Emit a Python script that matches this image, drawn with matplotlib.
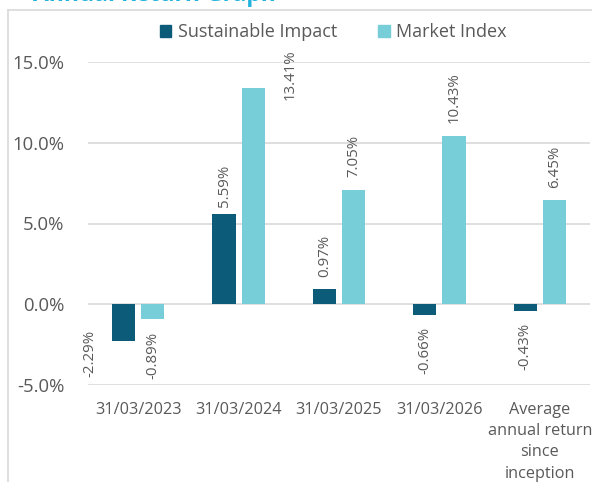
import numpy as np
import matplotlib.pyplot as plt
from matplotlib.patches import Patch
from matplotlib.lines import Line2D

categories = ['31/03/2023', '31/03/2024', '31/03/2025', '31/03/2026',
              'Average\nannual return\nsince\ninception']
sustainable = [-2.29, 5.59, 0.97, -0.66, -0.43]
market = [-0.89, 13.41, 7.05, 10.43, 6.45]

# where Excel put the data labels (y of text start / end, and x nudges)
sust_label_y = [-1.61, 6.01, 1.67, -1.43, -1.18]
mkt_label_y = [-1.73, 12.64, 7.87, 11.21, 7.19]
sust_label_dx = [-0.34, 0, 0, 0, 0]
mkt_label_dx = [0, 0.37, 0, 0, 0]

DARK = '#0b5b79'
LIGHT = '#77ced8'
GREY = '#595959'
GRID = '#d9d9d9'
FONT = 'Open Sans'

plt.rcParams['font.family'] = FONT

fig = plt.figure(figsize=(5.92, 4.82), dpi=100)
ax = fig.add_axes([88 / 592, 1 - 385 / 482, (590 - 88) / 592, (385 - 62) / 482])

x = np.arange(len(categories))
w = 0.23
off = 0.145
ax.bar(x - off, sustainable, w, color=DARK, zorder=3)
ax.bar(x + off, market, w, color=LIGHT, zorder=3)

for i in range(len(categories)):
    for val, ly, dx, xo in [(sustainable[i], sust_label_y[i], sust_label_dx[i], -off),
                            (market[i], mkt_label_y[i], mkt_label_dx[i], off)]:
        ax.text(x[i] + xo + dx, ly, f'{val:.2f}%', rotation=90, ha='center',
                va='bottom' if val >= 0 else 'top', fontsize=10.8, color=GREY,
                clip_on=False)

ax.set_xlim(-0.5, len(categories) - 0.5)
ax.set_ylim(-5, 15)
ax.set_yticks([-5, 0, 5, 10, 15])
ax.set_yticklabels([f'{v:.1f}%' for v in [-5, 0, 5, 10, 15]])
ax.set_xticks(x)
ax.set_xticklabels(categories, linespacing=1.45)
ax.tick_params(length=0, colors=GREY)
ax.tick_params(axis='x', labelsize=11.7, pad=12)
ax.tick_params(axis='y', labelsize=13.3, pad=17)
ax.grid(axis='y', color=GRID, linewidth=1.2, zorder=0)
for s in ax.spines.values():
    s.set_visible(False)

handles = [Patch(color=DARK, label='Sustainable Impact'),
           Patch(color=LIGHT, label='Market Index')]
fig.legend(handles=handles, loc='center', bbox_to_anchor=(0.563, 1 - 32 / 482),
           ncol=2, frameon=False, fontsize=13, handlelength=0.65,
           handleheight=0.65, handletextpad=0.35, columnspacing=2.3,
           labelcolor=GREY)

# chart frame (cut off on the right and bottom)
fig.add_artist(Line2D([8 / 592, 8 / 592], [0, 1 - 10 / 482], color=GRID,
                      linewidth=1.2, transform=fig.transFigure))
fig.add_artist(Line2D([8 / 592, 1], [1 - 10 / 482, 1 - 10 / 482], color=GRID,
                      linewidth=1.2, transform=fig.transFigure))

fig.text(33 / 592, 1 - 1 / 482, 'Annual Return Graph', color='#22b3dc',
         fontsize=16.5, fontweight='bold', ha='left', va='baseline')

fig.savefig('out.png', dpi=100)
